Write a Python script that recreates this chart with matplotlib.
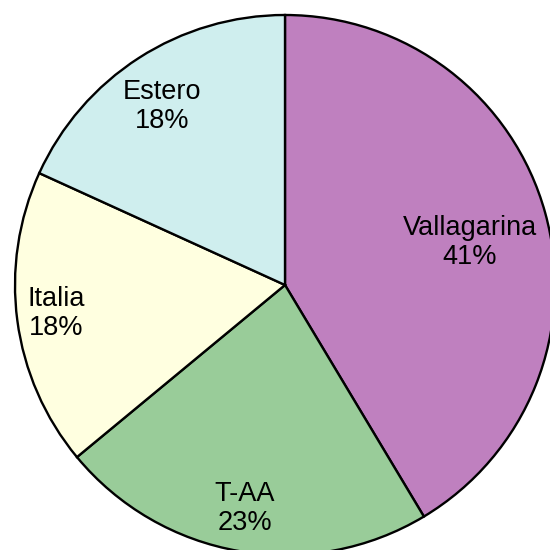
import matplotlib
matplotlib.use('Agg')
import matplotlib.pyplot as plt
import numpy as np

# Slice data (shares; labels show rounded percent)
labels = ['Vallagarina', 'T-AA', 'Italia', 'Estero']
values = [41.4, 22.6, 17.8, 18.2]
colors = ['#bf80bf', '#99cc99', '#ffffe0', '#cfeeee']
# label placement: fraction of radius along mid-angle, plus small nudges
label_dist = [0.70, 0.84, 0.855, 0.805]
label_nudge = [(0.010, -0.028), (-0.006, 0.002), (0.0, 0.008), (-0.020, -0.014)]

plt.rcParams['font.family'] = ['Liberation Sans', 'DejaVu Sans']

fig = plt.figure(figsize=(5.5, 5.5), dpi=100)
ax = fig.add_axes([0, 0, 1, 1])

wedges, _ = ax.pie(values, colors=colors, startangle=90, counterclock=False,
                   radius=1.0,
                   wedgeprops=dict(edgecolor='black', linewidth=1.7))

total = float(sum(values))
for w, lab, v, d, (nx, ny) in zip(wedges, labels, values, label_dist, label_nudge):
    ang = np.deg2rad((w.theta1 + w.theta2) / 2.0)
    ax.text(d * np.cos(ang) + nx, d * np.sin(ang) + ny,
            '%s\n%d%%' % (lab, round(100 * v / total)),
            ha='center', va='center', fontsize=19.5, linespacing=1.15)

# center at (285, 285) px, radius 270 px
r = 270.0
ax.set_xlim(-285 / r, 265 / r)
ax.set_ylim(-265 / r, 285 / r)
ax.set_aspect('auto')
ax.axis('off')

fig.savefig('out.png', dpi=100)
